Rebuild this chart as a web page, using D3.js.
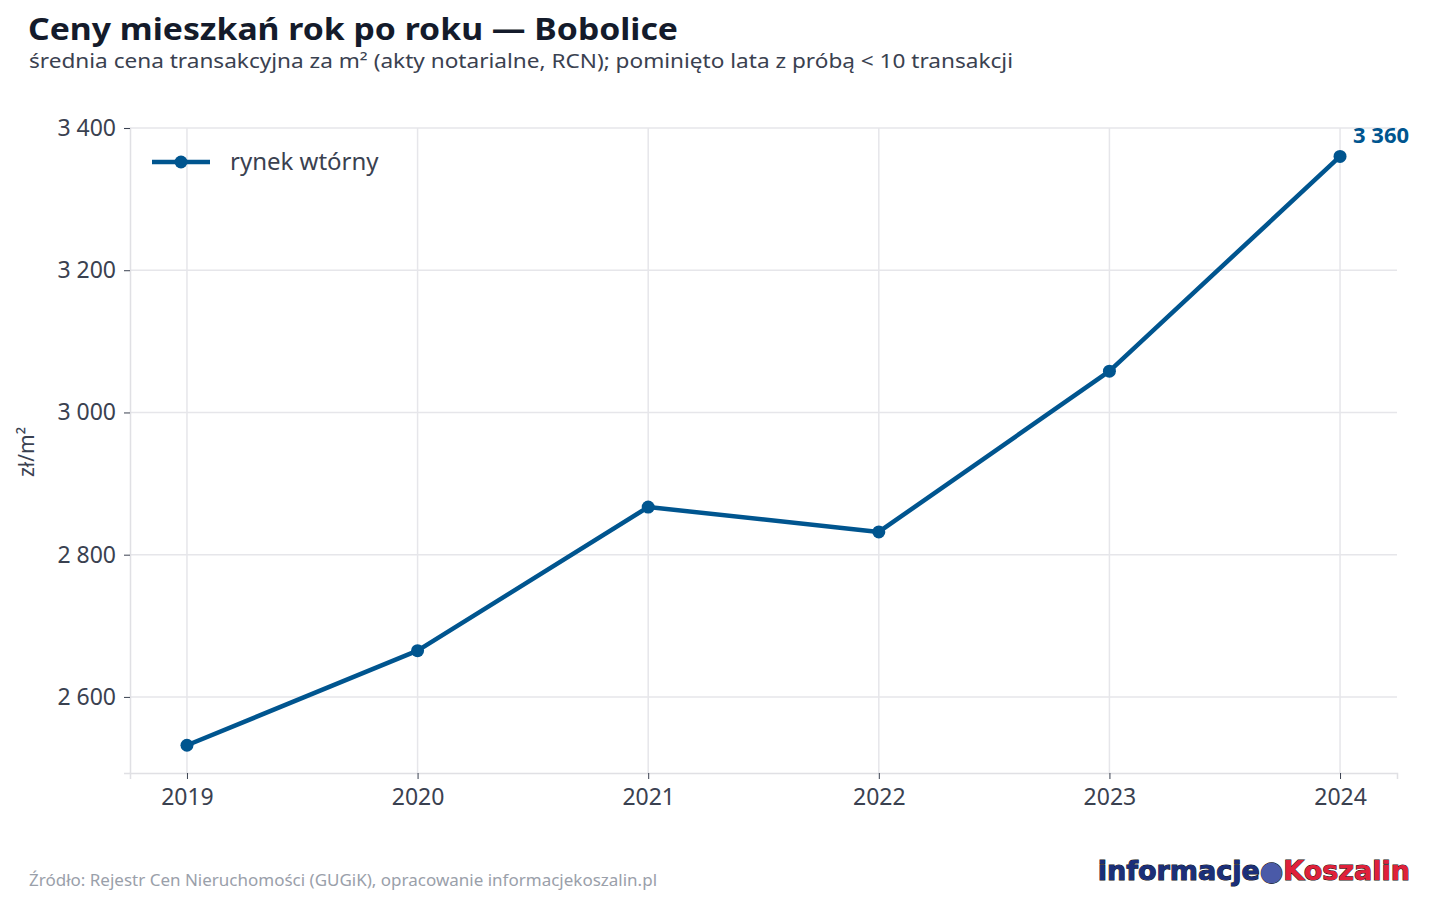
<!DOCTYPE html>
<html><head><meta charset="utf-8">
<script src="https://cdn.jsdelivr.net/npm/d3@7"></script>
<style>body{margin:0;background:#fff;font-family:"Noto Sans",sans-serif;}</style>
</head><body><div id="chart"></div>
<script>
const years = [2019, 2020, 2021, 2022, 2023, 2024];
const prices = [2532, 2665, 2867, 2832, 3058, 3360];
const yTicks = [2600, 2800, 3000, 3200, 3400];
const seriesName = "rynek wtórny";

const W = 1440, H = 900;
const margin = {top: 128, right: 43, bottom: 127, left: 130};
const color = "#00558f";

const svg = d3.select("#chart").append("svg").attr("width", W).attr("height", H);

svg.append("text").attr("x", 28).attr("y", 40)
  .attr("font-size", 30).attr("font-weight", 700).attr("fill", "#141b2b")
  .attr("textLength", 650).attr("lengthAdjust", "spacingAndGlyphs")
  .text("Ceny mieszkań rok po roku — Bobolice");
svg.append("text").attr("x", 29).attr("y", 68)
  .attr("font-size", 19).attr("fill", "#3a4150")
  .attr("textLength", 984).attr("lengthAdjust", "spacingAndGlyphs")
  .text("średnia cena transakcyjna za m² (akty notarialne, RCN); pominięto lata z próbą < 10 transakcji");

const x = d3.scalePoint().domain(years).range([margin.left, W - margin.right]).padding(0.247);
const y = d3.scaleLinear().domain([2493, 3400]).range([H - margin.bottom, margin.top]);

const g = svg.append("g");
g.selectAll(".gx").data(years).enter().append("line")
  .attr("x1", d => x(d)).attr("x2", d => x(d))
  .attr("y1", margin.top).attr("y2", H - margin.bottom)
  .attr("stroke", "#e6e6ea").attr("stroke-width", 1.5);
g.selectAll(".gy").data(yTicks).enter().append("line")
  .attr("x1", margin.left).attr("x2", W - margin.right)
  .attr("y1", d => y(d)).attr("y2", d => y(d))
  .attr("stroke", "#e6e6ea").attr("stroke-width", 1.5);

const fmt = d => d3.format(",")(d).replace(/,/g, " ");
const yAxis = svg.append("g").attr("transform", `translate(${margin.left},0)`)
  .call(d3.axisLeft(y).tickValues(yTicks).tickSize(6).tickPadding(8).tickFormat(fmt));
const xAxis = svg.append("g").attr("transform", `translate(0,${H - margin.bottom})`)
  .call(d3.axisBottom(x).tickSize(6).tickPadding(10).tickFormat(d3.format("d")));
[yAxis, xAxis].forEach(a => {
  a.select(".domain").attr("stroke", "#e0e0e4").attr("stroke-width", 1.5);
  a.selectAll(".tick line").attr("stroke", "#3a4150");
  a.selectAll("text").attr("font-size", 23).attr("fill", "#3a4150").attr("font-family", "Noto Sans");
});

svg.append("text").attr("transform", "translate(34,452) rotate(-90)")
  .attr("text-anchor", "middle").attr("font-size", 21).attr("fill", "#3a4150").text("zł/m²");

const line = d3.line().x((d, i) => x(years[i])).y(d => y(d));
svg.append("path").datum(prices).attr("d", line)
  .attr("fill", "none").attr("stroke", color).attr("stroke-width", 4.5).attr("stroke-linejoin", "round");
svg.selectAll(".pt").data(prices).enter().append("circle")
  .attr("cx", (d, i) => x(years[i])).attr("cy", d => y(d)).attr("r", 6.5).attr("fill", color);

const last = prices.length - 1;
svg.append("text").attr("x", x(years[last]) + 13).attr("y", y(prices[last]) - 13)
  .attr("font-size", 22).attr("font-weight", 700).attr("fill", color).text(fmt(prices[last]));

// legend
svg.append("line").attr("x1", 152).attr("x2", 210).attr("y1", 162).attr("y2", 162)
  .attr("stroke", color).attr("stroke-width", 4.5);
svg.append("circle").attr("cx", 181).attr("cy", 162).attr("r", 6.5).attr("fill", color);
svg.append("text").attr("x", 230).attr("y", 170).attr("font-size", 24).attr("fill", "#3a4150").text(seriesName);

svg.append("text").attr("x", 29).attr("y", 886).attr("font-size", 17).attr("fill", "#9aa0aa")
  .text("Źródło: Rejestr Cen Nieruchomości (GUGiK), opracowanie informacjekoszalin.pl");

// logo
const logo = svg.append("text").attr("x", 1410).attr("y", 880).attr("text-anchor", "end")
  .attr("font-size", 27).attr("font-weight", 700).attr("font-family", "DejaVu Sans")
  .attr("stroke", "#111").attr("stroke-width", 1).attr("paint-order", "stroke");
logo.append("tspan").attr("fill", "#1b2f7a").text("informacje");
logo.append("tspan").attr("fill", "#4a5aa8").text("●");
logo.append("tspan").attr("fill", "#e0203a").text("Koszalin");
</script></body></html>
